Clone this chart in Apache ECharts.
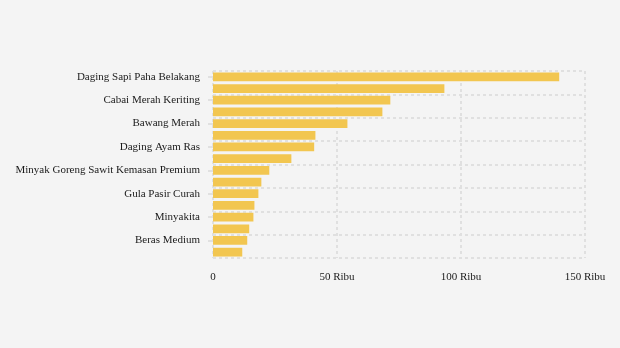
<!DOCTYPE html>
<html><head><meta charset="utf-8">
<script src="https://cdn.jsdelivr.net/npm/echarts@6/dist/echarts.min.js"></script>
<style>html,body{margin:0;padding:0;background:#f4f4f4}#c{width:620px;height:348px}</style>
</head><body><div id="c"></div>
<script>
var categories = [
  "Daging Sapi Paha Belakang",
  "Cabai Rawit Merah",
  "Cabai Merah Keriting",
  "Cabai Merah Besar",
  "Bawang Merah",
  "Bawang Putih Bonggol",
  "Daging Ayam Ras",
  "Telur Ayam Ras",
  "Minyak Goreng Sawit Kemasan Premium",
  "Minyak Goreng Curah",
  "Gula Pasir Curah",
  "Beras Premium",
  "Minyakita",
  "Tepung Terigu",
  "Beras Medium",
  "Jagung Pipilan"
];
var values = [139600, 93300, 71500, 68300, 54200, 41300, 40800, 31600, 22700, 19500, 18300, 16700, 16300, 14600, 13800, 11800];
var xTicks = [0, 50000, 100000, 150000];
var xTickLabels = ["0", "50 Ribu", "100 Ribu", "150 Ribu"];

var chart = echarts.init(document.getElementById('c'), null, {renderer: 'canvas'});
var font = "'Liberation Serif', 'Times New Roman', serif";
chart.setOption({
  backgroundColor: '#f4f4f4',
  animation: false,
  grid: {left: 213, right: 35, top: 71, bottom: 90, containLabel: false},
  xAxis: {
    type: 'value', min: 0, max: 150000, interval: 50000,
    axisLine: {show: false}, axisTick: {show: false},
    splitLine: {show: true, lineStyle: {color: '#e0e0e0', type: [3, 3], width: 2}},
    axisLabel: {
      margin: 14, color: '#1a1a1a', fontFamily: font, fontSize: 11,
      formatter: function (v) { var i = xTicks.indexOf(v); return i >= 0 ? xTickLabels[i] : ''; }
    }
  },
  yAxis: {
    type: 'category', data: categories, inverse: true,
    axisLine: {show: false},
    axisTick: {show: true, alignWithLabel: true, interval: 1, length: 5, lineStyle: {color: '#e0e0e0', width: 2}},
    splitLine: {show: true, interval: 1, lineStyle: {color: '#e0e0e0', type: [3, 3], width: 2}},
    axisLabel: {interval: 1, margin: 13, color: '#1a1a1a', fontFamily: font, fontSize: 11}
  },
  series: [{
    type: 'bar', data: values, barCategoryGap: '25%',
    itemStyle: {color: '#f2c650'}
  }]
});
</script></body></html>
